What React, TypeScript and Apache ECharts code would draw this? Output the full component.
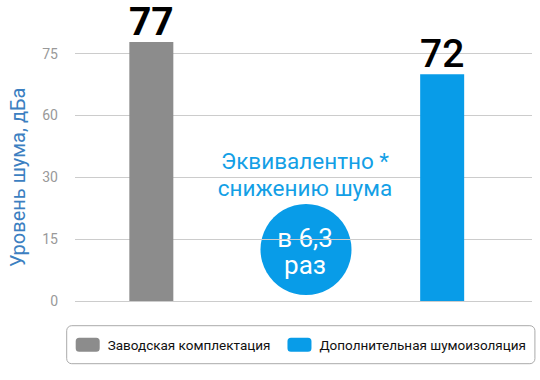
import React, { useEffect, useRef } from "react";
import * as echarts from "echarts";

const categories = ["Уровень шума"];
const seriesNames = ["Заводская комплектация", "Дополнительная шумоизоляция"];
const barLabels = ["77", "72"];
const barValues = [77.8, 70];
const yTicks = [0, 15, 30, 60, 75];
const colors = ["#8c8c8c", "#089ce8"];

function toAxis(v: number): number {
  for (let i = 1; i < yTicks.length; i++) {
    if (v <= yTicks[i] || i === yTicks.length - 1) {
      const a = yTicks[i - 1];
      const b = yTicks[i];
      return i - 1 + (v - a) / (b - a);
    }
  }
  return 0;
}

const FONT = "Roboto, 'Noto Sans', sans-serif";

export default function App() {
  const ref = useRef<HTMLDivElement>(null);
  useEffect(() => {
    if (!ref.current) return;
    const chart = echarts.init(ref.current, undefined, { renderer: "svg" });
    const yBase = {
      type: "value",
      min: 0,
      max: yTicks.length - 1,
      interval: 1,
    };
    chart.setOption({
      animation: false,
      textStyle: { fontFamily: FONT },
      grid: [
        { left: 66.5, right: 8, top: 53.5, bottom: 79, containLabel: false },
        { left: 66.5, right: 13, top: 53.5, bottom: 79, containLabel: false },
      ],
      xAxis: [0, 1].map((g) => ({
        type: "category",
        gridIndex: g,
        data: categories,
        axisLine: { show: false },
        axisTick: { show: false },
        axisLabel: { show: false },
      })),
      yAxis: [
        {
          ...yBase,
          gridIndex: 0,
          name: "Уровень шума, дБа",
          nameLocation: "middle",
          nameGap: 47,
          nameTextStyle: { color: "#3c7fc1", fontSize: 20, fontFamily: FONT },
          axisLine: { show: false },
          axisTick: { show: false },
          axisLabel: {
            color: "#999999",
            fontSize: 14,
            margin: 17,
            fontFamily: FONT,
            formatter: (v: number) => String(yTicks[Math.round(v)]),
          },
          splitLine: { lineStyle: { color: "#cccccc", width: 1 } },
        },
        {
          ...yBase,
          gridIndex: 1,
          axisLine: { show: false },
          axisTick: { show: false },
          axisLabel: { show: false },
          splitLine: { show: false },
        },
      ],
      legend: {
        data: seriesNames,
        left: 66.7,
        top: 325.7,
        orient: "horizontal",
        itemWidth: 24,
        itemHeight: 14,
        itemGap: 17,
        icon: "roundRect",
        padding: [12, 9, 12, 9],
        borderColor: "#aaaaaa",
        borderWidth: 1,
        borderRadius: 5,
        textStyle: { color: "#111111", fontSize: 13.5, fontFamily: FONT, padding: [0, 0, 0, 3] },
      },
      series: seriesNames.map((name, i) => ({
        name,
        type: "bar",
        xAxisIndex: 1,
        yAxisIndex: 1,
        clip: false,
        barWidth: 44,
        barGap: "561%",
        itemStyle: { color: colors[i] },
        label: {
          show: true,
          position: "top",
          distance: 2,
          color: "#000000",
          fontSize: 39,
          lineHeight: 36,
          fontWeight: i === 0 ? "bold" : 500,
          fontFamily: FONT,
          formatter: () => barLabels[i],
        },
        data: [toAxis(barValues[i])],
      })),
      graphic: [
        {
          type: "text",
          x: 305,
          y: 161,
          style: {
            text: "Эквивалентно *",
            fill: "#139fe6",
            font: `22.5px ${FONT}`,
            align: "center",
            verticalAlign: "middle",
          },
        },
        {
          type: "text",
          x: 305,
          y: 188,
          style: {
            text: "снижению шума",
            fill: "#139fe6",
            font: `22.5px ${FONT}`,
            align: "center",
            verticalAlign: "middle",
          },
        },
        {
          type: "circle",
          shape: { cx: 306, cy: 249.5, r: 45.5 },
          style: { fill: "#089ce8" },
        },
        {
          type: "text",
          x: 305,
          y: 237.5,
          style: {
            text: "в 6,3",
            fill: "#ffffff",
            font: `26px ${FONT}`,
            align: "center",
            verticalAlign: "middle",
          },
        },
        {
          type: "text",
          x: 305,
          y: 265,
          style: {
            text: "раз",
            fill: "#ffffff",
            font: `26px ${FONT}`,
            align: "center",
            verticalAlign: "middle",
          },
        },
      ],
    });
    return () => chart.dispose();
  }, []);
  return <div ref={ref} style={{ width: 540, height: 380, position: "absolute", left: 0, top: 0 }} />;
}
